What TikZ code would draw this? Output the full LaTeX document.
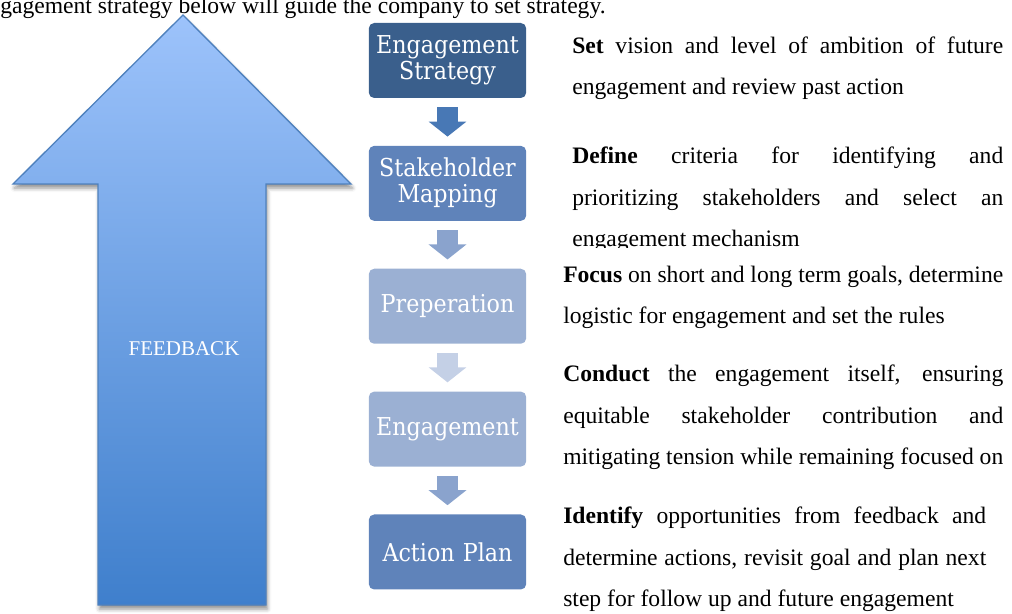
\documentclass[tikz,border=0pt]{standalone}
\usepackage{fontspec}
\setmainfont{Liberation Serif}
\newfontfamily\stagefont{DejaVu Serif}[FakeStretch=0.9]
\usepackage{tikz}
\usetikzlibrary{arrows.meta, positioning, shadows.blur}

\definecolor{stagedark}{HTML}{3A5F8C}
\definecolor{stagemid}{HTML}{5F83BA}
\definecolor{stagelight}{HTML}{9BB0D3}
\definecolor{flowa}{HTML}{4878B5}
\definecolor{flowb}{HTML}{8AA3CD}
\definecolor{flowc}{HTML}{C4D0E6}
\definecolor{arrowtop}{HTML}{9DC3FB}
\definecolor{arrowbottom}{HTML}{3F7FCC}
\definecolor{arrowedge}{HTML}{4F81BD}

\begin{document}
\begin{tikzpicture}[
    x=0.75pt, y=-0.75pt,
    node distance=35.5pt,
    stage/.style = {rectangle, rounded corners=4pt, minimum width=117.75pt, minimum height=56.25pt, text width=114pt, align=center, inner sep=2pt, text=white, font=\stagefont\fontsize{18.5}{19.5}\selectfont},
    note/.style = {anchor=north west, inner sep=0pt, align=justify, font=\fontsize{17.7}{31.1}\selectfont},
    flow/.style = {line width=15.75pt, shorten <=6.75pt, shorten >=6.75pt, -{Triangle[length=11.25pt, width=27.75pt]}},
    bigarrow/.style = {draw=arrowedge, line width=1pt, top color=arrowtop, bottom color=arrowbottom, blur shadow={shadow xshift=1pt, shadow yshift=-3pt, shadow blur radius=3pt, shadow opacity=45}}]

    \useasboundingbox (0,0) rectangle (1012,613);
    \clip (0,0) rectangle (1012,613);

    \node[note, anchor=base west, text width=504.75pt] (T) at (0,14) {\parfillskip=0pt gagement strategy below will guide the company to set strategy.};

    % feedback arrow on the left
    \path[bigarrow] (183,15) -- (351,184) -- (266,184) -- (266,605) -- (98,605) -- (98,184) -- (13,184) -- cycle;
    \node[text=white, font=\fontsize{15.75}{18}\selectfont, anchor=base] (F) at (184,355) {FEEDBACK};

    % stages
    \node[stage, fill=stagedark] (A) at (447.5,60.5) {Engagement\\Strategy};
    \node[stage, fill=stagemid, below=of A] (B) {Stakeholder\\Mapping};
    \node[stage, fill=stagelight, below=of B] (C) {Preperation};
    \node[stage, fill=stagelight, below=of C] (D) {Engagement};
    \node[stage, fill=stagemid, below=of D] (E) {Action Plan};

    \draw[flow, flowa] (A) -- (B);
    \draw[flow, flowb] (B) -- (C);
    \draw[flow, flowc] (C) -- (D);
    \draw[flow, flowb] (D) -- (E);

    % descriptions
    \node[note, text width=323.25pt] (a) at (572,36.5) {\textbf{Set} vision and level of ambition of future\linebreak engagement and review past action};
    \begin{scope}
        \clip (540,100) rectangle (1012,247);
        \node[note, text width=323.25pt] (b) at (572,147) {\textbf{Define} criteria for identifying and\linebreak prioritizing stakeholders and select an\linebreak engagement mechanism};
    \end{scope}
    \node[note, text width=330pt] (c) at (563,265.6) {\textbf{Focus} on short and long term goals, determine\linebreak logistic for engagement and set the rules};
    \node[note, text width=330pt] (d) at (563,365) {\textbf{Conduct} the engagement itself, ensuring\linebreak equitable stakeholder contribution and\linebreak \makebox[330pt][s]{mitigating tension while remaining focused on}};
    \node[note, text width=317.25pt] (e) at (563,507) {\textbf{Identify} opportunities from feedback and\linebreak determine actions, revisit goal and plan next\linebreak step for follow up and future engagement};

\end{tikzpicture}
\end{document}
